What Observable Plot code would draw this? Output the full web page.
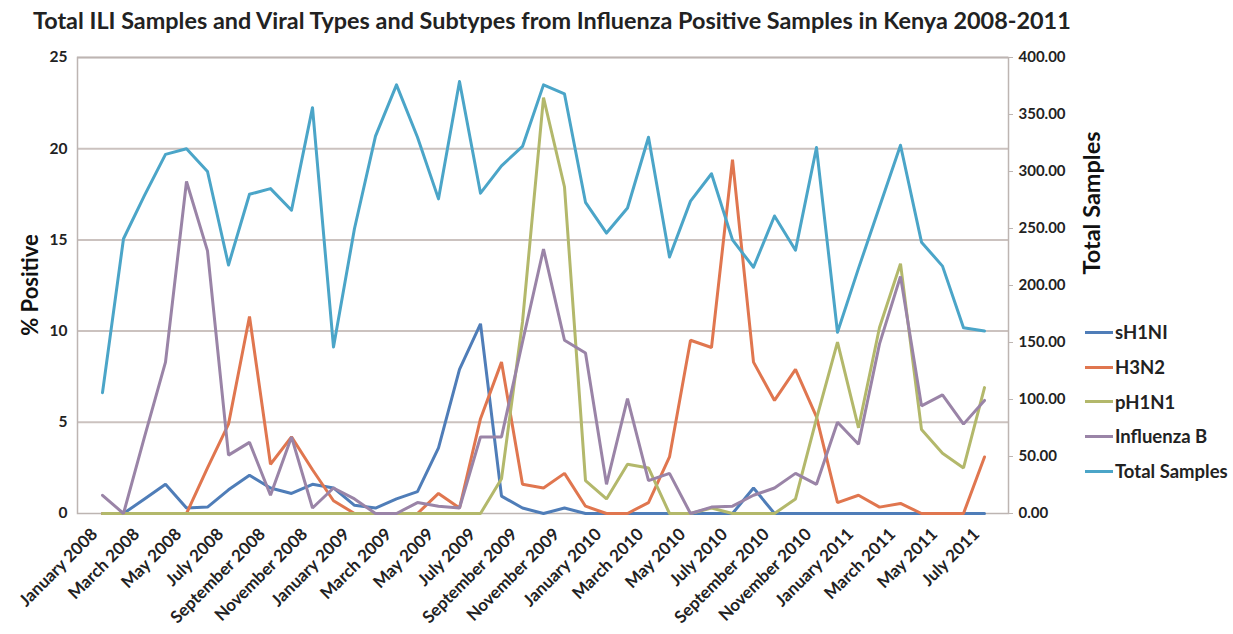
<!DOCTYPE html>
<html>
<head>
<meta charset="utf-8">
<script src="https://cdn.jsdelivr.net/npm/d3@7"></script>
<script src="https://cdn.jsdelivr.net/npm/@observablehq/plot@0.6"></script>
<style>
  body { margin: 0; background: #fff; font-family: Lato, "Open Sans", sans-serif; }
  #wrap { position: relative; width: 1233px; height: 634px; overflow: hidden; }
  #title { position: absolute; left: 33px; top: 6px; font-size: 23.4px; font-weight: bold; color: #222; white-space: nowrap; }
  #chart { position: absolute; left: 0; top: 45px; }
  .vlab { position: absolute; transform: translate(-50%, -50%) rotate(-90deg); font-weight: bold; color: #111; white-space: nowrap; }
  #ylab1 { left: 29px; top: 285px; font-size: 22px; }
  #ylab2 { left: 1091px; top: 203px; font-size: 23.5px; }
  #legend { position: absolute; left: 1085px; top: 315px; }
  .row { display: flex; align-items: center; height: 34.7px; font-size: 18.5px; font-weight: bold; color: #222; white-space: nowrap; }
  .sw { width: 28px; height: 3px; margin-right: 2px; }
</style>
</head>
<body>
<div id="wrap">
  <div id="title">Total ILI Samples and Viral Types and Subtypes from Influenza Positive Samples in Kenya 2008-2011</div>
  <div id="chart"></div>
  <div id="ylab1" class="vlab">% Positive</div>
  <div id="ylab2" class="vlab">Total Samples</div>
  <div id="legend"></div>
</div>
<script>
const months = [
  "January 2008","February 2008","March 2008","April 2008","May 2008","June 2008",
  "July 2008","August 2008","September 2008","October 2008","November 2008","December 2008",
  "January 2009","February 2009","March 2009","April 2009","May 2009","June 2009",
  "July 2009","August 2009","September 2009","October 2009","November 2009","December 2009",
  "January 2010","February 2010","March 2010","April 2010","May 2010","June 2010",
  "July 2010","August 2010","September 2010","October 2010","November 2010","December 2010",
  "January 2011","February 2011","March 2011","April 2011","May 2011","June 2011","July 2011"
];
const xTickLabels = [
  "January 2008","March 2008","May 2008","July 2008","September 2008","November 2008",
  "January 2009","March 2009","May 2009","July 2009","September 2009","November 2009",
  "January 2010","March 2010","May 2010","July 2010","September 2010","November 2010",
  "January 2011","March 2011","May 2011","July 2011"
];
const seriesNames = ["sH1NI", "H3N2", "pH1N1", "Influenza B", "Total Samples"];
const seriesColors = ["#4f7db8", "#e0764f", "#b3b86b", "#9a84a7", "#4ba5c8"];

const sH1NI = [0,0,0.8,1.6,0.3,0.35,1.3,2.1,1.4,1.1,1.6,1.4,0.45,0.3,0.8,1.2,3.6,7.9,10.4,0.95,0.3,0,0.3,0,0,0,0,0,0,0,0,1.4,0,0,0,0,0,0,0,0,0,0,0];
const H3N2 = [0,0,0,0,0,2.5,4.9,10.8,2.7,4.2,2.4,0.7,0,0,0,0,1.1,0.3,5.2,8.3,1.6,1.4,2.2,0.4,0,0,0.6,3.1,9.5,9.1,19.4,8.3,6.2,7.9,5.3,0.6,1.0,0.35,0.55,0,0,0,3.1];
const pH1N1 = [0,0,0,0,0,0,0,0,0,0,0,0,0,0,0,0,0,0,0,1.9,10.5,22.8,17.9,1.8,0.8,2.7,2.5,0,0,0.3,0,0,0,0.8,5.2,9.4,4.7,10.2,13.7,4.6,3.3,2.5,6.9];
const influenzaB = [1.0,0,4.2,8.3,18.2,14.4,3.2,3.9,1.0,4.2,0.3,1.4,0.8,0,0,0.6,0.4,0.3,4.2,4.2,9.4,14.5,9.5,8.8,1.6,6.3,1.8,2.2,0,0.35,0.4,1.0,1.4,2.2,1.6,5.0,3.8,9.3,13.0,5.9,6.5,4.9,6.2];
const totalSamples = [106,241,279,315,320,300,218,280,285,266,356,146,250,331,376,330,276,379,281,305,322,376,368,273,246,268,330,225,274,298,240,216,261,231,321,159,215,269,323,238,217,163,160];

const leftTicks = [0,5,10,15,20,25];
const rightTicks = [0,50,100,150,200,250,300,350,400];
const rightMax = 400, leftMax = 25;
const k = leftMax / rightMax; // map right axis onto left scale

const pctSeries = [sH1NI, H3N2, pH1N1, influenzaB];
const rows = [];
pctSeries.forEach((arr, s) => arr.forEach((v, i) => rows.push({month: months[i], value: v, series: seriesNames[s]})));
const totalRows = totalSamples.map((v, i) => ({month: months[i], value: v * k, series: seriesNames[4]}));

const gridColor = "#cbc2bf";
const plot = Plot.plot({
  width: 1233,
  height: 589,
  marginLeft: 77,
  marginRight: 225,
  marginTop: 12,
  marginBottom: 121,
  style: {fontFamily: "Lato, 'Open Sans', sans-serif", color: "#222", background: "#fff"},
  x: {type: "point", domain: months, padding: 0.5, axis: null},
  y: {domain: [0, leftMax], axis: null},
  color: {domain: seriesNames, range: seriesColors},
  marks: [
    Plot.ruleY(leftTicks.filter(d => d > 0), {stroke: gridColor, strokeWidth: 2}),
    Plot.frame({stroke: "#bdb5b2", strokeWidth: 1.5}),
    Plot.axisY({anchor: "left", ticks: leftTicks, tickSize: 0, tickPadding: 10, fontSize: 15.5, fontWeight: "bold", label: null}),
    Plot.axisY({anchor: "right", ticks: rightTicks.map(d => d * k), tickSize: 4, tickPadding: 6, stroke: "#bdb5b2",
      tickFormat: d => (d / k).toFixed(2), fontSize: 15, fontWeight: "bold", label: null}),
    Plot.axisX({ticks: xTickLabels, tickRotate: -45, tickSize: 0, tickPadding: 18, dx: -8, fontSize: 17, fontWeight: "bold", label: null}),
    Plot.line(rows, {x: "month", y: "value", z: "series", stroke: "series", strokeWidth: 3, strokeLinejoin: "miter"}),
    Plot.line(totalRows, {x: "month", y: "value", stroke: "series", strokeWidth: 3})
  ]
});
plot.querySelectorAll("text").forEach(t => { t.style.fontWeight = "bold"; });
document.getElementById("chart").appendChild(plot);

const leg = document.getElementById("legend");
seriesNames.forEach((name, i) => {
  const r = document.createElement("div");
  r.className = "row";
  r.innerHTML = `<div class="sw" style="background:${seriesColors[i]}"></div><span>${name}</span>`;
  leg.appendChild(r);
});
</script>
</body>
</html>
